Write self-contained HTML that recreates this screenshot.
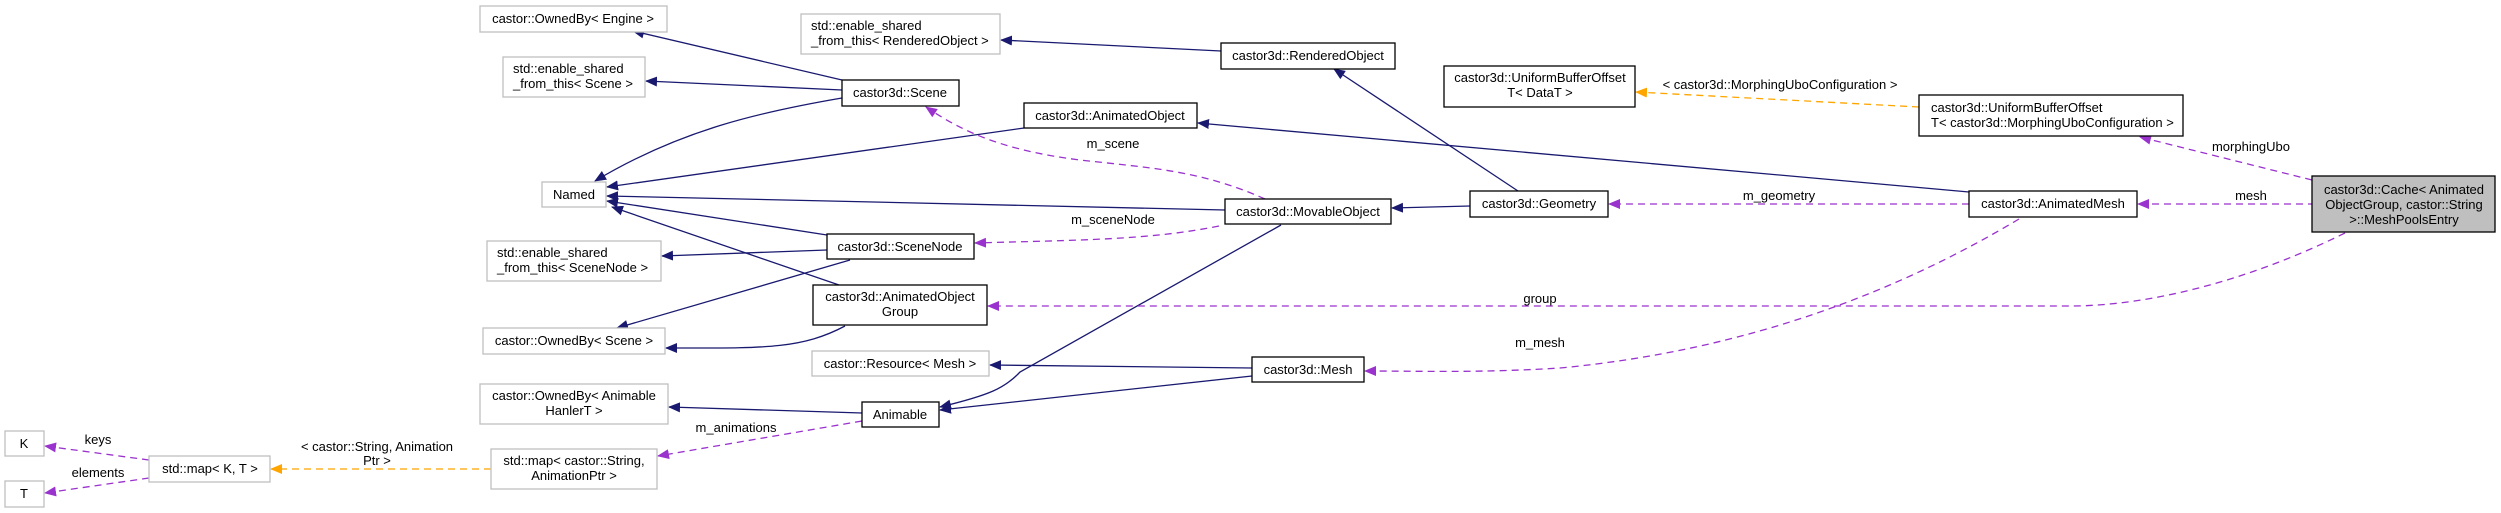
<!DOCTYPE html>
<html><head><meta charset="utf-8"><style>
html,body{margin:0;padding:0;background:#fff;}
svg{display:block;}
text{font-family:"Liberation Sans",Arial,sans-serif;font-size:13px;fill:#000;}
.g{fill:#fff;stroke:#bfbfbf;stroke-width:1.3;}
.b{fill:#fff;stroke:#000;stroke-width:1.3;}
.n{fill:none;stroke:#191970;stroke-width:1.3;}
.p{fill:none;stroke:#9a32cd;stroke-width:1.3;stroke-dasharray:7,5;}
.o{fill:none;stroke:#ffa500;stroke-width:1.3;stroke-dasharray:7,5;}
</style></head><body>
<svg width="2501" height="513" viewBox="0 0 2501 513" xmlns="http://www.w3.org/2000/svg">
<defs>
<marker id="an" markerWidth="12" markerHeight="10" refX="11" refY="5" orient="auto" markerUnits="userSpaceOnUse"><path d="M0,0 L12,5 L0,10 z" fill="#191970"/></marker>
<marker id="ap" markerWidth="12" markerHeight="10" refX="11" refY="5" orient="auto" markerUnits="userSpaceOnUse"><path d="M0,0 L12,5 L0,10 z" fill="#9a32cd"/></marker>
<marker id="ao" markerWidth="12" markerHeight="10" refX="11" refY="5" orient="auto" markerUnits="userSpaceOnUse"><path d="M0,0 L12,5 L0,10 z" fill="#ffa500"/></marker>
</defs>

<!-- navy edges -->
<path class="n" marker-end="url(#an)" d="M842,80 L633,31"/>
<path class="n" marker-end="url(#an)" d="M842,90 L646,81"/>
<path class="n" marker-end="url(#an)" d="M842,98 C760,112 680,130 595,181"/>
<path class="n" marker-end="url(#an)" d="M1024,128 L607,187"/>
<path class="n" marker-end="url(#an)" d="M1225,210 L607,196"/>
<path class="n" marker-end="url(#an)" d="M827,235 L607,201"/>
<path class="n" marker-end="url(#an)" d="M839,285 L612,207"/>
<path class="n" marker-end="url(#an)" d="M827,250 L662,256"/>
<path class="n" marker-end="url(#an)" d="M850,260 L617,328"/>
<path class="n" marker-end="url(#an)" d="M845,326 C800,350 760,348 666,348"/>
<path class="n" marker-end="url(#an)" d="M862,413 L669,407"/>
<path class="n" marker-end="url(#an)" d="M1221,51 L1001,40"/>
<path class="n" marker-end="url(#an)" d="M1518,191 L1334,69"/>
<path class="n" marker-end="url(#an)" d="M1969,192 L1198,123"/>
<path class="n" marker-end="url(#an)" d="M1470,206 L1392,208"/>
<path class="n" marker-end="url(#an)" d="M1281,225 L1020,372 C1005,388 990,395 940,407"/>
<path class="n" marker-end="url(#an)" d="M1252,368 L990,365"/>
<path class="n" marker-end="url(#an)" d="M1252,376 L940,410"/>

<!-- purple edges -->
<path class="p" marker-end="url(#ap)" d="M862,421 L658,456"/>
<path class="p" marker-end="url(#ap)" d="M149,460 L45,446"/>
<path class="p" marker-end="url(#ap)" d="M149,478 L45,493"/>
<path class="p" marker-end="url(#ap)" d="M1265,199 C1200,170 1150,168 1080,160 C1000,150 960,130 926,107"/>
<path class="p" marker-end="url(#ap)" d="M1219,226 C1150,240 1080,240 975,243"/>
<path class="p" marker-end="url(#ap)" d="M1969,204 L1609,204"/>
<path class="p" marker-end="url(#ap)" d="M2019,219 C1900,290 1750,350 1560,368 C1480,373 1420,371 1365,371"/>
<path class="p" marker-end="url(#ap)" d="M2345,233 C2250,280 2150,306 2070,306 L988,306"/>
<path class="p" marker-end="url(#ap)" d="M2315,204 L2138,204"/>
<path class="p" marker-end="url(#ap)" d="M2312,180 L2140,137"/>

<!-- orange edges -->
<path class="o" marker-end="url(#ao)" d="M491,469 L271,469"/>
<path class="o" marker-end="url(#ao)" d="M1919,107 L1636,92"/>

<!-- boxes -->
<rect class="g" x="480" y="6" width="187" height="26"/><text x="573" y="23" text-anchor="middle">castor::OwnedBy&lt; Engine &gt;</text>
<rect class="g" x="503" y="57" width="142" height="40"/><text x="513" y="73">std::enable_shared</text><text x="513" y="88">_from_this&lt; Scene &gt;</text>
<rect class="g" x="542" y="182" width="64" height="25"/><text x="574" y="199" text-anchor="middle">Named</text>
<rect class="g" x="487" y="241" width="174" height="40"/><text x="497" y="257">std::enable_shared</text><text x="497" y="272">_from_this&lt; SceneNode &gt;</text>
<rect class="g" x="483" y="328" width="182" height="26"/><text x="574" y="345" text-anchor="middle">castor::OwnedBy&lt; Scene &gt;</text>
<rect class="g" x="480" y="384" width="188" height="40"/><text x="574" y="400" text-anchor="middle">castor::OwnedBy&lt; Animable</text><text x="574" y="415" text-anchor="middle">HanlerT &gt;</text>
<rect class="g" x="491" y="449" width="166" height="40"/><text x="574" y="465" text-anchor="middle">std::map&lt; castor::String,</text><text x="574" y="480" text-anchor="middle">AnimationPtr &gt;</text>
<rect class="g" x="149" y="456" width="121" height="26"/><text x="210" y="473" text-anchor="middle">std::map&lt; K, T &gt;</text>
<rect class="g" x="5" y="431" width="39" height="25"/><text x="24" y="448" text-anchor="middle">K</text>
<rect class="g" x="5" y="481" width="39" height="26"/><text x="24" y="498" text-anchor="middle">T</text>
<rect class="g" x="801" y="14" width="199" height="40"/><text x="811" y="30">std::enable_shared</text><text x="811" y="45">_from_this&lt; RenderedObject &gt;</text>
<rect class="g" x="812" y="351" width="177" height="25"/><text x="900" y="368" text-anchor="middle">castor::Resource&lt; Mesh &gt;</text>

<rect class="b" x="842" y="80" width="117" height="26"/><text x="900" y="97" text-anchor="middle">castor3d::Scene</text>
<rect class="b" x="827" y="234" width="147" height="25"/><text x="900" y="251" text-anchor="middle">castor3d::SceneNode</text>
<rect class="b" x="813" y="285" width="174" height="40"/><text x="900" y="301" text-anchor="middle">castor3d::AnimatedObject</text><text x="900" y="316" text-anchor="middle">Group</text>
<rect class="b" x="862" y="402" width="77" height="25"/><text x="900" y="419" text-anchor="middle">Animable</text>
<rect class="b" x="1221" y="43" width="174" height="26"/><text x="1308" y="60" text-anchor="middle">castor3d::RenderedObject</text>
<rect class="b" x="1444" y="66" width="191" height="41"/><text x="1540" y="82" text-anchor="middle">castor3d::UniformBufferOffset</text><text x="1540" y="97" text-anchor="middle">T&lt; DataT &gt;</text>
<rect class="b" x="1024" y="103" width="173" height="25"/><text x="1110" y="120" text-anchor="middle">castor3d::AnimatedObject</text>
<rect class="b" x="1225" y="199" width="166" height="25"/><text x="1308" y="216" text-anchor="middle">castor3d::MovableObject</text>
<rect class="b" x="1470" y="191" width="138" height="26"/><text x="1539" y="208" text-anchor="middle">castor3d::Geometry</text>
<rect class="b" x="1252" y="357" width="112" height="25"/><text x="1308" y="374" text-anchor="middle">castor3d::Mesh</text>
<rect class="b" x="1919" y="95" width="264" height="41"/><text x="1931" y="112">castor3d::UniformBufferOffset</text><text x="1931" y="127">T&lt; castor3d::MorphingUboConfiguration &gt;</text>
<rect class="b" x="1969" y="191" width="168" height="26"/><text x="2053" y="208" text-anchor="middle">castor3d::AnimatedMesh</text>
<rect x="2312" y="176" width="183" height="56" fill="#bfbfbf" stroke="#000" stroke-width="1.3"/><text x="2404" y="194" text-anchor="middle">castor3d::Cache&lt; Animated</text><text x="2404" y="209" text-anchor="middle">ObjectGroup, castor::String</text><text x="2404" y="224" text-anchor="middle">&gt;::MeshPoolsEntry</text>

<!-- edge labels -->
<text x="98" y="444" text-anchor="middle">keys</text>
<text x="98" y="477" text-anchor="middle">elements</text>
<text x="377" y="451" text-anchor="middle">&lt; castor::String, Animation</text>
<text x="377" y="465" text-anchor="middle">Ptr &gt;</text>
<text x="736" y="432" text-anchor="middle">m_animations</text>
<text x="1113" y="148" text-anchor="middle">m_scene</text>
<text x="1113" y="224" text-anchor="middle">m_sceneNode</text>
<text x="1540" y="303" text-anchor="middle">group</text>
<text x="1540" y="347" text-anchor="middle">m_mesh</text>
<text x="1779" y="200" text-anchor="middle">m_geometry</text>
<text x="1780" y="89" text-anchor="middle">&lt; castor3d::MorphingUboConfiguration &gt;</text>
<text x="2251" y="151" text-anchor="middle">morphingUbo</text>
<text x="2251" y="200" text-anchor="middle">mesh</text>
</svg>
</body></html>
